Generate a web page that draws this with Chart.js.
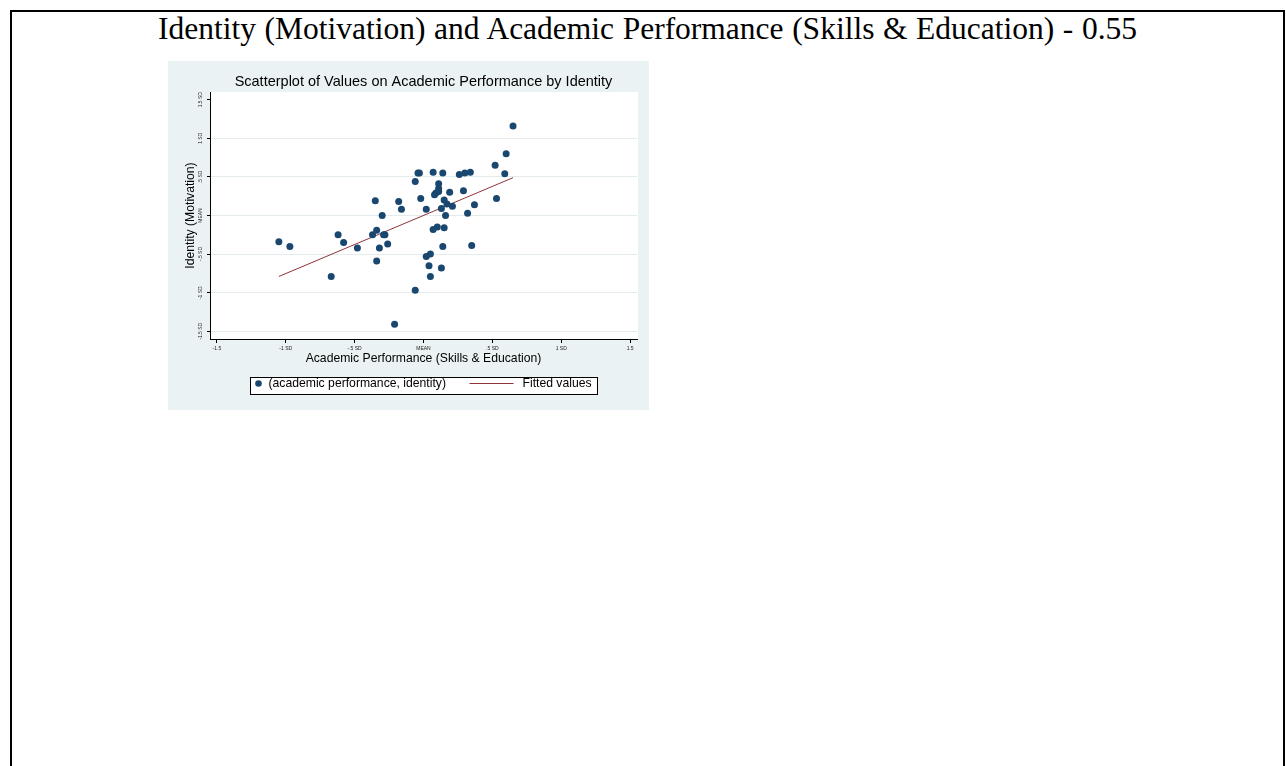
<!DOCTYPE html>
<html><head><meta charset="utf-8">
<script src="https://cdn.jsdelivr.net/npm/chart.js@4.4.1/dist/chart.umd.min.js"></script>
<style>
html,body{margin:0;padding:0;background:#fff;width:1286px;height:766px;overflow:hidden;}
#frame{position:absolute;left:10px;top:10px;width:1271px;height:800px;border:2px solid #000;border-bottom:none;}
#title{position:absolute;left:10px;width:1275px;top:13.7px;text-align:center;font-family:'Liberation Serif','Times New Roman',serif;font-size:31.5px;line-height:30px;white-space:nowrap;color:#000;word-spacing:0.7px;}
#wrap{position:absolute;left:168px;top:61px;width:481px;height:349px;background:#EAF2F3;}
canvas{display:block;}
</style></head><body>
<div id="frame"></div>
<div id="title">Identity (Motivation) and Academic Performance (Skills &amp; Education) - 0.55</div>
<div id="wrap"><canvas id="c" width="481" height="349" style="width:481px;height:349px"></canvas></div>
<script>
// ---- data (standardized scores) ----
const academicPerformance = [-1.05,-0.97,-0.67,-0.62,-0.58,-0.48,-0.35,-0.37,-0.34,-0.30,-0.29,-0.28,-0.32,-0.26,-0.34,-0.18,-0.16,-0.06,-0.02,-0.04,-0.03,0.02,0.07,0.14,0.11,0.11,0.11,0.09,0.08,0.19,0.29,0.13,0.15,0.17,0.21,0.16,0.32,0.37,0.26,0.30,0.34,0.52,0.59,0.60,0.65,0.53,0.07,0.10,0.15,0.14,0.35,0.02,0.05,0.04,0.13,0.05,-0.06,-0.21];
const identity = [-0.34,-0.40,-0.79,-0.25,-0.35,-0.42,0.19,-0.25,-0.19,0.00,-0.25,-0.25,-0.42,-0.37,-0.59,0.18,0.08,0.44,0.22,0.55,0.55,0.08,0.56,0.55,0.41,0.35,0.31,0.29,0.27,0.30,0.32,0.09,0.20,0.15,0.12,0.00,0.03,0.14,0.53,0.55,0.56,0.65,0.54,0.80,1.16,0.22,-0.18,-0.15,-0.16,-0.40,-0.39,-0.53,-0.50,-0.65,-0.68,-0.79,-0.97,-1.41];
const fittedX = [-1.05, 0.65];
const fittedY = [-0.79, 0.49];
const xTickValues = [-1.5,-1,-0.5,0,0.5,1,1.5];
const xTickLabels = ['-1.5','-1 SD','-.5 SD','MEAN','.5 SD','1 SD','1.5'];
const yTickValues = [-1.5,-1,-0.5,0,0.5,1,1.5];
const yTickLabels = ['-1.5 SD','-1 SD','-.5 SD','MEAN','.5 SD','1 SD','1.5 SD'];
const seriesLabels = ['(academic performance, identity)','Fitted values'];
const chartTitle = 'Scatterplot of Values on Academic Performance by Identity';
const xTitle = 'Academic Performance (Skills & Education)';
const yTitle = 'Identity (Motivation)';

const FONT = '"Liberation Sans", Arial, Helvetica, sans-serif';
const NAVY = '#1A476F', MAROON = '#90353B';

const plotBg = {
  id:'plotBg',
  beforeDraw(chart){
    const {ctx, chartArea:a} = chart;
    ctx.save(); ctx.fillStyle='#fff';
    ctx.fillRect(a.left, a.top, a.right - a.left + 1, a.bottom - a.top);
    ctx.restore();
  }
};
const yLabelPlugin = {
  id:'yLabels',
  afterDraw(chart){
    const s = chart.scales.y, ctx = chart.ctx;
    ctx.save();
    ctx.font = '5px ' + FONT; ctx.fillStyle = '#222';
    ctx.textAlign = 'center'; ctx.textBaseline = 'middle';
    s.ticks.forEach(t => {
      const i = yTickValues.indexOf(t.value);
      if (i < 0) return;
      const y = s.getPixelForValue(t.value);
      ctx.save(); ctx.translate(s.right - 9, y); ctx.rotate(-Math.PI/2);
      ctx.fillText(yTickLabels[i], 0, 0); ctx.restore();
    });
    ctx.restore();
  }
};
const legendPlugin = {
  id:'stataLegend',
  afterDraw(chart){
    const ctx = chart.ctx, a = chart.chartArea, ds = chart.data.datasets;
    const w = 347, h = 17;
    const left = Math.round((a.left + a.right)/2 - w/2) + 0.5, top = 316.5;
    ctx.save();
    ctx.fillStyle = '#fff'; ctx.fillRect(left, top, w, h);
    ctx.strokeStyle = '#000'; ctx.lineWidth = 1; ctx.strokeRect(left, top, w, h);
    const my = top + 6;
    ctx.fillStyle = ds[0].backgroundColor;
    ctx.beginPath(); ctx.arc(left + 8, my, 3.3, 0, Math.PI*2); ctx.fill();
    ctx.font = '12.2px ' + FONT; ctx.fillStyle = '#000';
    ctx.textBaseline = 'middle'; ctx.textAlign = 'left';
    ctx.fillText(ds[0].label, left + 18, my);
    ctx.strokeStyle = ds[1].borderColor; ctx.lineWidth = 1;
    ctx.beginPath(); ctx.moveTo(left + 219, my); ctx.lineTo(left + 263, my); ctx.stroke();
    ctx.fillText(ds[1].label, left + 272, my);
    ctx.restore();
  }
};

new Chart(document.getElementById('c'), {
  type:'scatter',
  data:{
    datasets:[
      {label:seriesLabels[0], data:academicPerformance.map((x,i)=>({x, y:identity[i]})),
       backgroundColor:NAVY, borderColor:NAVY, borderWidth:0, pointRadius:3.5, pointHoverRadius:3.5},
      {label:seriesLabels[1], type:'line', data:fittedX.map((x,i)=>({x, y:fittedY[i]})),
       borderColor:MAROON, backgroundColor:MAROON, borderWidth:1, pointRadius:0, fill:false, tension:0}
    ]
  },
  options:{
    responsive:false, animation:false, events:[],
    layout:{padding:{top:0,left:0,right:12,bottom:43}},
    plugins:{
      legend:{display:false}, tooltip:{enabled:false},
      title:{display:true, fullSize:false, text:chartTitle, color:'#000', font:{family:FONT, size:14.5, weight:'normal', lineHeight:1.2}, padding:{top:12.3,bottom:1.3}}
    },
    scales:{
      x:{type:'linear', min:-1.55, max:1.55,
        afterBuildTicks:s=>{s.ticks = xTickValues.map(v=>({value:v}));},
        afterFit:s=>{s.height = 28;},
        ticks:{autoSkip:false, maxRotation:0, minRotation:0, padding:3, color:'#222', font:{family:FONT,size:5},
          callback:v=>{const i=xTickValues.indexOf(v); return i<0?'':xTickLabels[i];}},
        grid:{drawOnChartArea:false, drawTicks:true, tickLength:4, tickColor:'#000', color:'#000'},
        border:{display:true, color:'#000', width:1},
        title:{display:true, text:xTitle, color:'#000', font:{family:FONT,size:12.2,lineHeight:1.2}, padding:{top:0,bottom:1.4}}
      },
      y:{type:'linear', min:-1.6, max:1.6,
        afterBuildTicks:s=>{s.ticks = yTickValues.map(v=>({value:v}));},
        afterFit:s=>{s.width = 42;},
        ticks:{display:false},
        grid:{drawOnChartArea:true, drawTicks:true, tickLength:3, tickColor:'#000',
          color:c=> (c.tick && c.tick.value === 1.5) ? 'rgba(0,0,0,0)' : '#E3EBED', lineWidth:1},
        border:{display:true, color:'#000', width:1},
        title:{display:true, text:yTitle, color:'#000', font:{family:FONT,size:12.2,lineHeight:1.2}, padding:{top:15.4,bottom:0}}
      }
    }
  },
  plugins:[plotBg, yLabelPlugin, legendPlugin]
});
</script>
</body></html>
